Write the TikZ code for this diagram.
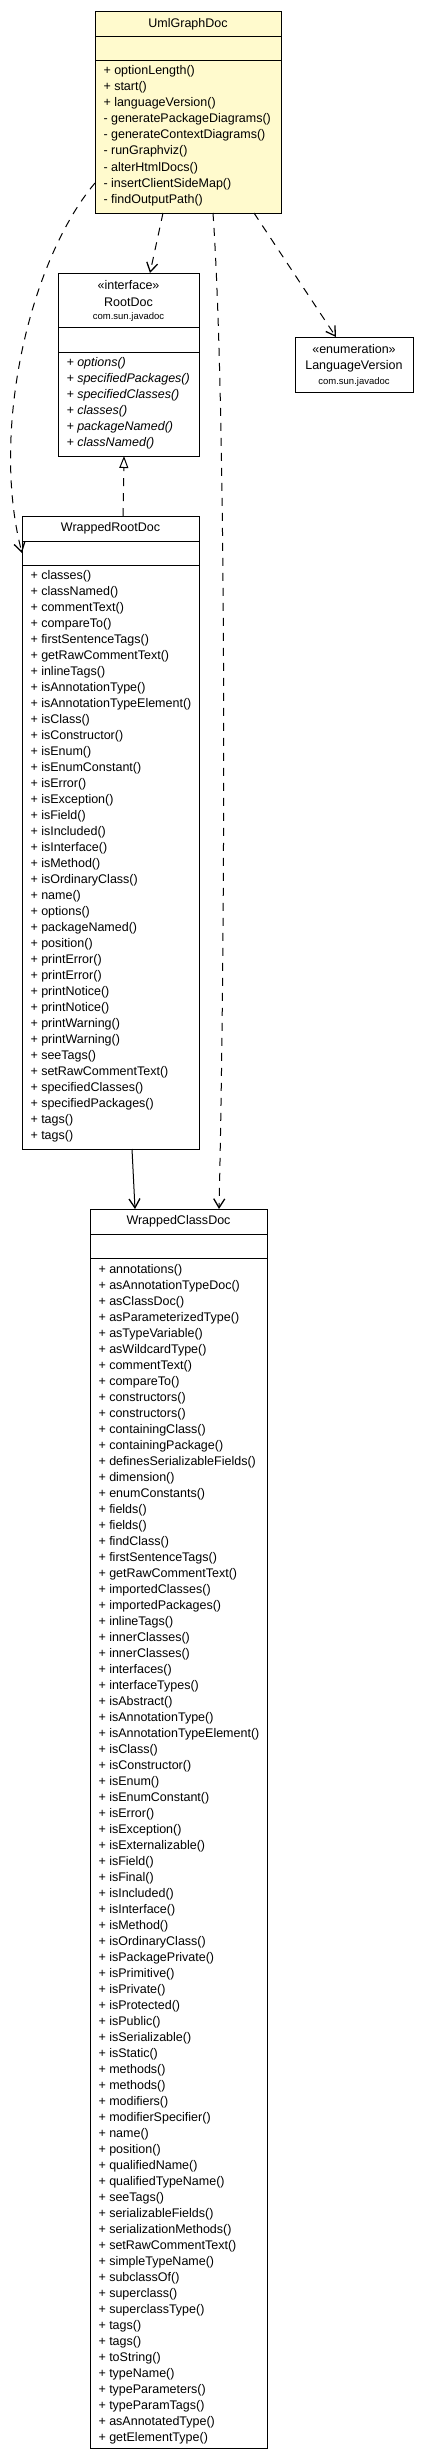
\documentclass[tikz,border=0pt]{standalone}
\usepackage{fontspec}
\setmainfont{Liberation Sans}
\usepackage{tikz}
\usetikzlibrary{arrows.meta}
\usepackage{xcolor}
\definecolor{umlyellow}{RGB}{255,250,205}

\begin{document}
\begin{tikzpicture}[x=1bp,y=-1bp,
	  every node/.style={inner sep=0,outer sep=0},
	  umlclass/.style={draw=black,line width=1bp,anchor=north west,fill=white},
	  mainclass/.style={umlclass,fill=umlyellow},
	  compartment/.style={line width=1bp},
	  clsname/.style={anchor=base,font=\fontsize{12.5bp}{16bp}\selectfont},
	  pkgname/.style={anchor=base,font=\fontsize{9.5bp}{12bp}\selectfont},
	  member/.style={anchor=base west,font=\fontsize{12.5bp}{16bp}\selectfont},
	  dep/.style={-{Straight Barb[length=9bp,width=11bp,line width=1.3bp]},line width=1bp,dash pattern=on 8bp off 7bp},
	  assoc/.style={-{Straight Barb[length=9bp,width=11bp,line width=1.3bp]},line width=1bp},
	  realize/.style={-{Triangle[open,length=12bp,width=9bp,line width=1bp]},line width=1bp,dash pattern=on 8bp off 7bp}]

	  \useasboundingbox[fill=white] (0,0) rectangle (429,2461);

	  % Position the class boxes
	  \node[mainclass,minimum width=186bp,minimum height=201.5bp] (umlgraphdoc) at (95,11.5) {};
	  \node[umlclass,minimum width=141bp,minimum height=183bp] (rootdoc) at (58,273) {};
	  \node[umlclass,minimum width=118bp,minimum height=55bp] (languageversion) at (295,337) {};
	  \node[umlclass,minimum width=177bp,minimum height=633bp] (wrappedrootdoc) at (22,516) {};
	  \node[umlclass,minimum width=177bp,minimum height=1239bp] (wrappedclassdoc) at (90,1209) {};

	  % Compartments
	  \foreach \c/\a/\b in {umlgraphdoc/25.5/49.5, rootdoc/54.5/79, wrappedrootdoc/25.5/49.5, wrappedclassdoc/25.5/49.5} {
	    \draw[compartment] ([yshift=-\a bp]\c.north west) -- ([yshift=-\a bp]\c.north east);
	    \draw[compartment] ([yshift=-\b bp]\c.north west) -- ([yshift=-\b bp]\c.north east);
	  }

	  % Names
	  \node[clsname] (umlgraphdoc-name) at (188,27.5) {UmlGraphDoc};
	  \node[clsname] (rootdoc-stereo) at (128.5,289) {«interface»};
	  \node[clsname] (rootdoc-name) at (128.5,306.5) {RootDoc};
	  \node[pkgname] (rootdoc-pkg) at (128.5,319.5) {com.sun.javadoc};
	  \node[clsname] (languageversion-stereo) at (354,353) {«enumeration»};
	  \node[clsname] (languageversion-name) at (354,369.5) {LanguageVersion};
	  \node[pkgname] (languageversion-pkg) at (354,384.5) {com.sun.javadoc};
	  \node[clsname] (wrappedrootdoc-name) at (110.5,531.5) {WrappedRootDoc};
	  \node[clsname] (wrappedclassdoc-name) at (178.5,1224.5) {WrappedClassDoc};

	  % Operations
	  \foreach \m [count=\i from 0] in {+ optionLength, + start, + languageVersion, - generatePackageDiagrams, - generateContextDiagrams, - runGraphviz, - alterHtmlDocs, - insertClientSideMap, - findOutputPath}
	    \node[member] (umlgraphdoc-m\i) at (103.5,75+16*\i) {\m()};
	  \foreach \m [count=\i from 0] in {options, specifiedPackages, specifiedClasses, classes, packageNamed, classNamed}
	    \node[member,font=\fontsize{12.5bp}{16bp}\selectfont\itshape] (rootdoc-m\i) at (66.5,366+16*\i) {+ \m()};
	  \foreach \m [count=\i from 0] in {classes, classNamed, commentText, compareTo, firstSentenceTags, getRawCommentText, inlineTags, isAnnotationType, isAnnotationTypeElement, isClass, isConstructor, isEnum, isEnumConstant, isError, isException, isField, isIncluded, isInterface, isMethod, isOrdinaryClass, name, options, packageNamed, position, printError, printError, printNotice, printNotice, printWarning, printWarning, seeTags, setRawCommentText, specifiedClasses, specifiedPackages, tags, tags}
	    \node[member] (wrappedrootdoc-m\i) at (30.5,579.5+16*\i) {+ \m()};
	  \foreach \m [count=\i from 0] in {annotations, asAnnotationTypeDoc, asClassDoc, asParameterizedType, asTypeVariable, asWildcardType, commentText, compareTo, constructors, constructors, containingClass, containingPackage, definesSerializableFields, dimension, enumConstants, fields, fields, findClass, firstSentenceTags, getRawCommentText, importedClasses, importedPackages, inlineTags, innerClasses, innerClasses, interfaces, interfaceTypes, isAbstract, isAnnotationType, isAnnotationTypeElement, isClass, isConstructor, isEnum, isEnumConstant, isError, isException, isExternalizable, isField, isFinal, isIncluded, isInterface, isMethod, isOrdinaryClass, isPackagePrivate, isPrimitive, isPrivate, isProtected, isPublic, isSerializable, isStatic, methods, methods, modifiers, modifierSpecifier, name, position, qualifiedName, qualifiedTypeName, seeTags, serializableFields, serializationMethods, setRawCommentText, simpleTypeName, subclassOf, superclass, superclassType, tags, tags, toString, typeName, typeParameters, typeParamTags, asAnnotatedType, getElementType}
	    \node[member] (wrappedclassdoc-m\i) at (98.5,1273+16*\i) {+ \m()};

	  % Relations
	  \draw[dep] ([xshift=68bp]umlgraphdoc.south west) -- ([xshift=92bp]rootdoc.north west);
	  \draw[dep] ([xshift=159bp]umlgraphdoc.south west) -- ([xshift=41bp]languageversion.north west);
	  \draw[dep] ([xshift=118bp]umlgraphdoc.south west) .. controls (226,400) and (226,900) .. ([xshift=129bp]wrappedclassdoc.north west);
	  \draw[dep] ([yshift=30bp]umlgraphdoc.south west) .. controls (30,260) and (-10,430) .. ([yshift=-37bp]wrappedrootdoc.north west);
	  \draw[realize] ([xshift=101bp]wrappedrootdoc.north west) -- ([xshift=66bp]rootdoc.south west);
	  \draw[assoc] ([xshift=110bp]wrappedrootdoc.south west) -- ([xshift=45bp]wrappedclassdoc.north west);
\end{tikzpicture}
\end{document}
